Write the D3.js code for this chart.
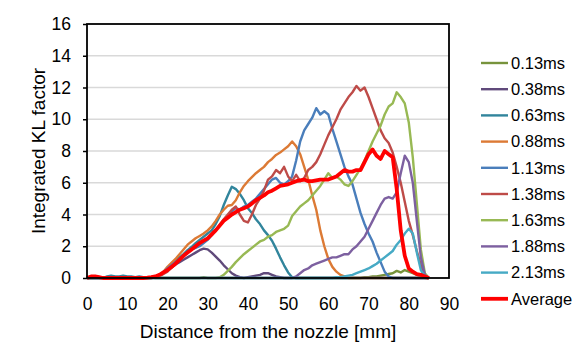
<!DOCTYPE html>
<html>
<head>
<meta charset="utf-8">
<script src="https://cdn.jsdelivr.net/npm/d3@7"></script>
<style>
	body { margin: 0; background: #fff; }
	text { font-family: "Liberation Sans", Arial, sans-serif; fill: #000; }
</style>
</head>
<body>
<script>
// distance from the nozzle [mm], one sample per mm
var distance = d3.range(0, 86);

var labels = ["0.13ms", "0.38ms", "0.63ms", "0.88ms", "1.13ms", "1.38ms", "1.63ms", "1.88ms", "2.13ms", "Average"];
var colors = ["#77933c", "#604a7b", "#31859c", "#dc7a35", "#4a7ebb", "#be4b48", "#98b954", "#7d60a0", "#46aac5", "#ff0000"];

var s013 = [0,0,0,0,0,0,0.05,0.05,0,0, 0,0.05,0,0,0,0,0.05,0,0,0, 0,0,0,0,0,0,0,0,0,0.05,
	0,0,0,0,0,0,0,0,0,0, 0,0,0,0,0,0,0,0,0,0, 0,0,0,0,0,0,0,0,0,0,
	0,0,0,0,0,0,0,0,0,0.05, 0.05,0.1,0.1,0.15,0.2,0.25,0.3,0.45,0.35,0.5, 0.4,0.3,0.2,0.1,0,0];
var s038 = [0,0,0,0,0,0,0,0,0,0, 0,0,0,0,0,0,0,0.05,0.15,0.3, 0.5,0.65,0.85,1.0,1.15,1.3,1.45,1.6,1.75,1.85,
	1.8,1.6,1.35,1.1,0.8,0.55,0.3,0.15,0.05,0, 0.05,0.1,0.15,0.2,0.3,0.3,0.2,0.1,0.05,0,
	0,0,0,0,0,0,0,0,0,0, 0,0,0,0,0,0,0,0,0,0, 0,0,0,0,0,0,0,0,0,0, 0,0,0,0,0,0];
var s063 = [0,0,0,0,0,0.1,0.15,0.1,0.1,0.15, 0.1,0.1,0.05,0.1,0.05,0.05,0.05,0.1,0.2,0.35, 0.55,0.8,1.05,1.3,1.5,1.75,1.95,2.2,2.4,2.6,
	2.8,3.0,3.4,3.9,4.6,5.2,5.75,5.6,5.3,4.9, 4.4,4.1,3.7,3.4,3.0,2.7,2.35,1.85,1.3,0.8,
	0.35,0.05,0,0,0,0,0,0,0,0, 0,0,0,0,0,0,0,0,0,0, 0,0,0,0,0,0,0,0,0,0, 0,0,0,0,0,0];
var s088 = [0,0,0,0,0,0,0,0,0,0, 0,0,0,0,0,0,0,0.05,0.2,0.4, 0.7,0.95,1.2,1.5,1.8,2.1,2.3,2.5,2.65,2.8,
	3.0,3.25,3.6,4.0,4.3,4.55,4.6,4.9,5.4,5.8, 6.1,6.35,6.6,6.8,7.0,7.3,7.5,7.75,7.9,8.1,
	8.3,8.6,8.3,7.8,7.0,6.2,5.2,4.3,3.0,2.0, 1.2,0.7,0.4,0.2,0.1,0,0,0,0,0, 0,0,0,0,0,0,0,0,0,0, 0,0,0,0,0,0];
var s113 = [0,0,0,0,0,0,0,0,0,0, 0,0,0,0,0,0,0,0.05,0.15,0.35, 0.6,0.8,1.0,1.2,1.4,1.6,1.8,1.9,2.0,2.2,
	2.4,2.7,3.0,3.3,3.6,3.9,4.2,4.4,4.3,4.5, 4.6,4.8,5.0,5.3,5.6,5.9,6.2,6.3,6.0,5.9,
	6.1,6.4,7.4,8.6,9.3,9.7,10.1,10.7,10.3,10.5, 10.3,9.4,8.6,7.8,7.0,6.4,5.9,5.0,4.1,3.4,
	2.8,2.3,1.6,1.0,0.4,0.1,0,0,0,0, 0,0,0,0,0,0];
var s138 = [0,0,0,0,0,0,0,0,0,0, 0,0,0,0,0,0,0,0.05,0.1,0.25, 0.4,0.65,0.9,1.15,1.4,1.6,1.8,2.0,2.2,2.35,
	2.5,2.7,3.0,3.35,3.7,4.0,4.3,4.5,4.0,3.6, 3.5,4.0,4.6,5.0,5.5,6.2,6.4,6.8,6.6,7.0,
	6.4,6.1,6.5,6.1,6.3,6.8,7.0,7.3,7.8,8.4, 9.0,9.5,10.0,10.6,11.0,11.4,11.7,12.1,11.8,12.0,
	11.4,10.7,10.0,9.3,8.8,8.5,7.9,7.0,6.0,4.8, 3.6,2.7,1.7,0.8,0.2,0];
var s163 = [0,0,0,0,0,0,0,0,0,0, 0,0,0,0,0,0,0,0,0,0, 0,0,0,0,0,0,0,0,0,0,
	0,0,0,0.05,0.2,0.45,0.7,1.0,1.25,1.5, 1.7,1.9,2.1,2.3,2.4,2.6,2.7,2.9,3.0,3.1,
	3.3,3.9,4.2,4.5,4.7,4.9,5.2,5.5,5.8,6.2, 6.6,6.3,6.4,6.2,5.9,5.8,6.1,6.5,6.9,7.4,
	8.0,8.6,9.1,9.6,10.3,10.8,11.0,11.7,11.4,11.0, 9.8,7.6,4.7,1.8,0.3,0];
var s188 = [0,0,0,0,0,0,0,0,0,0, 0,0,0,0,0,0,0,0,0,0, 0,0,0,0,0,0,0,0,0,0,
	0,0,0,0,0,0,0,0,0,0, 0,0,0,0,0,0,0,0,0,0,
	0,0,0.1,0.3,0.5,0.6,0.8,0.9,1.0,1.1, 1.2,1.3,1.3,1.4,1.5,1.5,1.8,2.0,2.3,2.6,
	3.1,3.6,4.1,4.6,5.0,5.1,5.0,5.4,6.6,7.7, 7.3,6.0,3.6,1.3,0.2,0];
var s213 = [0,0,0,0,0,0,0,0,0,0, 0,0,0,0,0,0,0,0,0,0, 0,0,0,0,0,0,0,0,0,0,
	0,0,0,0,0,0,0,0,0,0, 0,0,0,0,0,0,0,0,0,0,
	0,0,0,0,0,0,0,0,0,0, 0,0,0.05,0.05,0.1,0.15,0.2,0.3,0.4,0.5,
	0.6,0.75,0.9,1.1,1.3,1.5,1.7,2.1,2.4,2.8, 3.1,2.8,1.6,0.5,0.1,0];
var average = [0,0.1,0.1,0.05,0,0,0,0,0,0, 0,0,0,0,0,0.02,0.05,0.1,0.2,0.35, 0.5,0.7,0.9,1.15,1.4,1.6,1.8,2.0,2.2,2.35,
	2.5,2.75,3.0,3.3,3.6,3.8,4.0,4.15,4.3,4.4, 4.5,4.7,4.9,5.05,5.2,5.4,5.5,5.65,5.8,5.85,
	5.9,6.0,6.1,6.15,6.2,6.1,6.1,6.15,6.2,6.2, 6.2,6.3,6.4,6.6,6.8,6.7,6.7,6.8,6.8,7.3,
	7.8,8.1,7.7,7.5,8.0,7.8,7.6,5.6,3.0,1.4, 0.6,0.4,0.25,0.2,0.1,0];

var series = [s013, s038, s063, s088, s113, s138, s163, s188, s213, average];

var xTicks = [0, 10, 20, 30, 40, 50, 60, 70, 80, 90];
var yTicks = [0, 2, 4, 6, 8, 10, 12, 14, 16];

var width = 583, height = 348;
var margin = {left: 87, top: 24, right: 134, bottom: 70};

var svg = d3.select("body").append("svg")
	.attr("width", width)
	.attr("height", height);

var x = d3.scaleLinear().domain([0, 90]).range([margin.left, width - margin.right]);
var y = d3.scaleLinear().domain([0, 16]).range([height - margin.bottom, margin.top]);

// gridlines
svg.append("g")
	.selectAll("line")
	.data(yTicks.slice(1, -1))
	.enter().append("line")
	.attr("x1", x(0))
	.attr("x2", x(90))
	.attr("y1", function(d) { return y(d); })
	.attr("y2", function(d) { return y(d); })
	.style("stroke", "#d9d9d9")
	.style("stroke-width", 1.3);

// y axis
var yAxis = svg.append("g")
	.attr("transform", "translate(" + x(0) + ",0)")
	.call(d3.axisLeft(y).tickValues(yTicks).tickSize(4).tickPadding(12));
yAxis.select(".domain").remove();
yAxis.selectAll("line").style("stroke", "#000").style("stroke-width", 1.5);
yAxis.selectAll("text").style("font-size", "17.5px").style("font-family", "Liberation Sans, Arial, sans-serif");

// x axis
var xAxis = svg.append("g")
	.attr("transform", "translate(0," + y(0) + ")")
	.call(d3.axisBottom(x).tickValues(xTicks).tickSize(0).tickPadding(20));
xAxis.select(".domain").remove();
xAxis.selectAll("text").style("font-size", "17.5px").style("font-family", "Liberation Sans, Arial, sans-serif");

// lines
var line = d3.line()
	.x(function(d, i) { return x(distance[i]); })
	.y(function(d) { return y(d); });

svg.append("g")
	.selectAll("path")
	.data(series)
	.enter().append("path")
	.attr("d", line)
	.style("fill", "none")
	.style("stroke", function(d, i) { return colors[i]; })
	.style("stroke-width", function(d, i) { return i == series.length - 1 ? 3.8 : 2.4; })
	.style("stroke-linejoin", "round");

// plot frame
svg.append("rect")
	.attr("x", x(0))
	.attr("y", y(16))
	.attr("width", x(90) - x(0))
	.attr("height", y(0) - y(16))
	.style("fill", "none")
	.style("stroke", "#000")
	.style("stroke-width", 1.8);

// axis titles
svg.append("text")
	.attr("x", (x(0) + x(90)) / 2)
	.attr("y", 338)
	.attr("text-anchor", "middle")
	.style("font-size", "19px")
	.text("Distance from the nozzle [mm]");

svg.append("text")
	.attr("transform", "translate(45," + (y(0) + y(16)) / 2 + ") rotate(-90)")
	.attr("text-anchor", "middle")
	.style("font-size", "19px")
	.text("Integrated KL factor");

// legend
var legend = svg.append("g")
	.selectAll("g")
	.data(labels)
	.enter().append("g")
	.attr("transform", function(d, i) { return "translate(481," + (63 + i * 26.2) + ")"; });

legend.append("line")
	.attr("x1", 0)
	.attr("x2", 27)
	.style("stroke", function(d, i) { return colors[i]; })
	.style("stroke-width", function(d, i) { return i == labels.length - 1 ? 3.8 : 2.4; });

legend.append("text")
	.attr("x", 30)
	.attr("dy", "0.35em")
	.style("font-size", "16.5px")
	.text(function(d) { return d; });
</script>
</body>
</html>
